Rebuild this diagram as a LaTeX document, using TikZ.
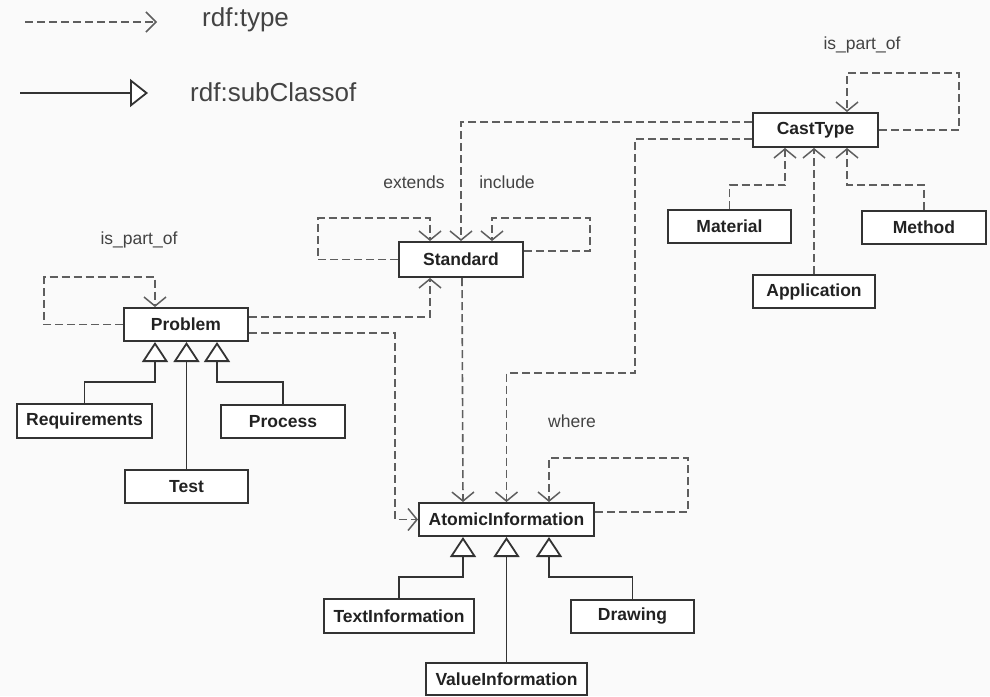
\documentclass[tikz,border=0pt]{standalone}
\usepackage{fontspec}
\setmainfont{Liberation Sans}
\usetikzlibrary{arrows.meta}
\definecolor{boxline}{HTML}{333333}
\definecolor{depline}{HTML}{5E5E5E}
\definecolor{txt}{HTML}{222222}
\tikzset{
  umlbox/.style={draw=boxline, line width=2pt, fill=white, inner sep=0pt,
    text=txt, font=\bfseries\fontsize{17.5}{20}\selectfont,
    minimum height=33pt, minimum width=124pt},
  dep/.style={draw=depline, line width=1.6pt, dash pattern=on 8pt off 4pt,
    -{Straight Barb[length=9pt,width=22pt,line width=1.5pt]}},
  isa/.style={draw=boxline, line width=1.8pt,
    -{Triangle[open,length=20pt,width=26pt,line width=1.8pt,fill=white]}},
  lbl/.style={text=txt!85!white, font=\fontsize{17.5}{20}\selectfont, inner sep=0pt},
  legtxt/.style={text=txt!85!white, font=\fontsize{26}{30}\selectfont, inner sep=0pt}
}
\begin{document}
\begin{tikzpicture}[x=1pt,y=-1pt]
\useasboundingbox[fill=white!98!black] (0,0) rectangle (990,696);

% legend
\coordinate (la) at (25,22);
\coordinate (lb) at (157,22);
\draw[dep, -{Straight Barb[length=10pt,width=20pt,line width=1.5pt]}] (la) -- (lb);
\node[legtxt, anchor=west] (ltype) at (202,20) {rdf:type};
\coordinate (lc) at (20,93);
\coordinate (ld) at (148,93);
\draw[isa, -{Triangle[open,length=18pt,width=28pt,line width=1.8pt,fill=white]}] (lc) -- (ld);
\node[legtxt, anchor=west] (lsub) at (190,92) {rdf:subClassof};

% boxes
\node[umlbox, minimum width=125pt, minimum height=34pt] (ct) at (815.5,130) {CastType};
\node[umlbox, minimum width=123pt] (mat) at (729.5,226.5) {Material};
\node[umlbox, minimum width=122pt] (app) at (814,291.5) {Application};
\node[umlbox] (meth) at (924,227.5) {Method};
\node[umlbox, minimum height=35pt] (std) at (461,259.5) {Standard};
\node[umlbox] (prob) at (186,324.5) {Problem};
\node[umlbox, minimum width=135pt, minimum height=34pt] (req) at (84.5,421) {Requirements};
\node[umlbox] (proc) at (283,421.5) {Process};
\node[umlbox, minimum width=123pt] (test) at (186.5,486.5) {Test};
\node[umlbox, minimum width=175pt] (ai) at (506.5,519.5) {AtomicInformation};
\node[umlbox, minimum width=150pt, minimum height=34pt] (ti) at (399,616) {TextInformation};
\node[umlbox, minimum width=123pt] (dr) at (632.5,616.5) {Drawing};
\node[umlbox, minimum width=161pt, minimum height=32pt] (vi) at (506.5,679) {ValueInformation};

% labels
\node[lbl] (l1) at (862,45) {is\_part\_of};
\node[lbl] (l2) at (139,240) {is\_part\_of};
\node[lbl] (l3) at (414,182) {extends};
\node[lbl] (l4) at (507,182) {include};
\node[lbl] (l5) at (572,421) {where};

% rdf:type connectors
\draw[dep] (ct.east) -| (959,73) -| ([xshift=31.5]ct.north);
\draw[dep] ([yshift=8]ct.west) -| (std.north);
\draw[dep] ([yshift=-9]ct.west) -| (635,373) -| (ai.north);
\draw[dep] (mat.north) -- ++(0,-24) -| ([xshift=-30.5]ct.south);
\draw[dep] (app.north) -- (app.north |- ct.south);
\draw[dep] (meth.north) -- ++(0,-25) -| ([xshift=31.5]ct.south);
\draw[dep] (std.west) -| (318,218) -| ([xshift=-31]std.north);
\draw[dep] ([yshift=8.5]std.east) -| (590,218) -| ([xshift=31]std.north);
\draw[dep] ([xshift=1]std.south) -- ([xshift=-43.5]ai.north);
\draw[dep] (prob.west) -| (44,277) -| ([xshift=-31]prob.north);
\draw[dep] ([yshift=7.5]prob.east) -| ([xshift=-31]std.south);
\draw[dep] ([yshift=-8.5]prob.east) -| ([xshift=-23]ai.west) -- (ai.west);
\draw[dep] ([yshift=7.5]ai.east) -| (688,458) -| ([xshift=42.5]ai.north);

% rdf:subClassOf connectors
\draw[isa] (req.north) -- ++(0,-21) -| ([xshift=-31]prob.south);
\draw[isa] (test.north) -- (test.north |- prob.south);
\draw[isa] (proc.north) -- ++(0,-22) -| ([xshift=31]prob.south);
\draw[isa] (ti.north) -- ++(0,-21) -| ([xshift=-43.5]ai.south);
\draw[isa] (vi.north) -- (vi.north |- ai.south);
\draw[isa] (dr.north) -- ++(0,-22) -| ([xshift=42.5]ai.south);
\end{tikzpicture}
\end{document}
